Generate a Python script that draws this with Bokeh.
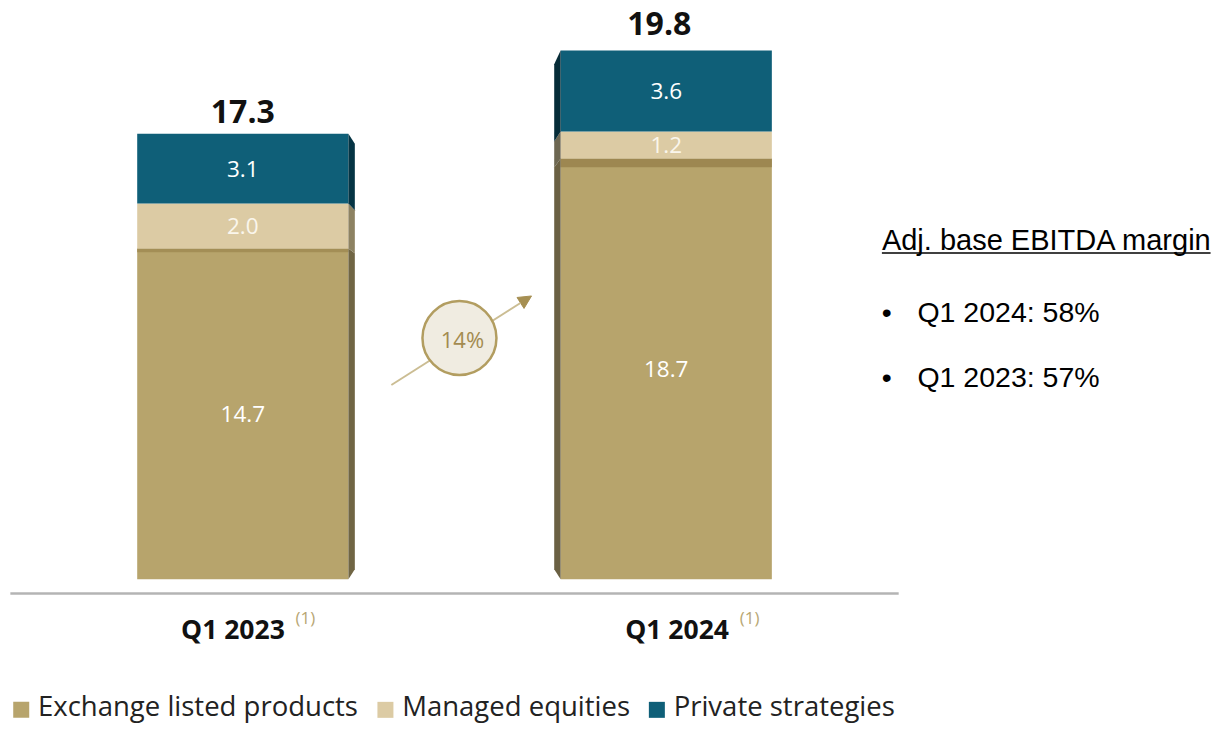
from bokeh.plotting import figure
from bokeh.models import Range1d, Arrow, NormalHead
from bokeh.core.properties import value
from bokeh.embed import file_html
from bokeh.resources import INLINE

# ---------------- data ----------------
categories = ["Q1 2023", "Q1 2024"]
exchange_listed = [14.7, 18.7]
managed_equities = [2.0, 1.2]
private_strategies = [3.1, 3.6]
totals = ["17.3", "19.8"]
series_names = ["Exchange listed products", "Managed equities", "Private strategies"]
footnote = "(1)"
growth_label = "14%"
margin_title = "Adj. base EBITDA margin"
margin_lines = ["Q1 2024: 58%", "Q1 2023: 57%"]

# ---------------- style / layout ----------------
W, H = 1215, 725
SX, SY = W / 1231.0, H / 741.0      # reference layout -> canvas
PXX = 429.0 * SX                     # pixels per category step
PXY = 23.0 * SY                      # pixels per value unit
x_start = -(245.5 * SX) / PXX
x_end = x_start + W / PXX
y_start = -(H - 591.5 * SY) / PXY
y_end = y_start + H / PXY

def X(px):  # layout x (reference pixels) -> data x
    return x_start + px * SX / PXX

def Y(py):  # layout y (reference pixels, from top) -> data y
    return y_start + (H - py * SY) / PXY

def DY(px):  # vertical pixel offset -> data units
    return px * SY / PXY

front_colors = ["#b7a46c", "#dccba4", "#0f5f78"]
side_colors = [["#706544", "#8d8262", "#053444"],
               ["#6a6043", "#6d6752", "#062c38"]]
label_colors = ["#ffffff", "#faf6ec", "#ffffff"]
band_color = ["#a38e56", "#9d8751"]
band_px = [4, 9]
sides = [1, -1]          # right side visible for bar 1, left side for bar 2
bar_w = 214 / 429.0
side_w = 6.5 / 429.0
vanish_y = (591.5 - 365) / 23.0
k = 0.045
total_dx = [0, -7]
total_dy = [23, 28]

p = figure(width=W, height=H, x_range=Range1d(x_start, x_end), y_range=Range1d(y_start, y_end),
           output_backend="svg", toolbar_location=None, min_border=0)
p.axis.visible = False
p.grid.visible = False
p.outline_line_color = None
p.background_fill_color = "white"
p.border_fill_color = "white"

series = [exchange_listed, managed_equities, private_strategies]

# arrow behind the circle
p.add_layout(Arrow(end=NormalHead(size=13, fill_color="#a68f52", line_color="#a68f52"),
                   x_start=X(396), y_start=Y(393), x_end=X(538), y_end=Y(302),
                   line_color="#cbbd93", line_width=2, level="underlay"))

# bars
for i in range(len(categories)):
    xc = float(i)
    left, right = xc - bar_w / 2, xc + bar_w / 2
    bottom = 0.0
    side_xs, side_ys, side_cols = [], [], []
    for s, vals in enumerate(series):
        top = bottom + vals[i]
        p.quad(left=[left], right=[right], bottom=[bottom], top=[top],
               fill_color=front_colors[s], line_color=None)
        xf = right if sides[i] > 0 else left
        xb = xf + sides[i] * side_w
        yb_bot = bottom + (vanish_y - bottom) * k
        yb_top = top + (vanish_y - top) * k
        side_xs.append([xf, xb, xb, xf])
        side_ys.append([bottom, yb_bot, yb_top, top])
        side_cols.append(side_colors[i][s])
        if s == 0:
            p.quad(left=[left], right=[right], bottom=[top - DY(band_px[i])], top=[top],
                   fill_color=band_color[i], line_color=None)
        p.text(x=[xc], y=[(bottom + top) / 2], text=[f"{vals[i]:.1f}"],
               text_font=value("Open Sans"), text_font_size="22.5px",
               text_color=label_colors[s], text_align="center", text_baseline="middle")
        bottom = top
    p.patches(xs=side_xs, ys=side_ys, fill_color=side_cols, line_color=None)
    p.text(x=[xc + total_dx[i] / 429.0], y=[bottom + DY(total_dy[i])], text=[totals[i]],
           text_font=value("Open Sans"), text_font_size="32px", text_font_style="bold",
           text_color="#111111", text_align="center", text_baseline="middle")

# baseline
p.line(x=[X(10), X(910)], y=[Y(606), Y(606)], line_color="#b4b4b4", line_width=2.5)

# category labels
cat_cx = [235.5, 685.5]
sup_cx = [309, 759]
for i, c in enumerate(categories):
    p.text(x=[X(cat_cx[i])], y=[Y(642)], text=[c], text_font=value("Open Sans"),
           text_font_size="26.5px", text_font_style="bold", text_color="#111111",
           text_align="center", text_baseline="middle")
    p.text(x=[X(sup_cx[i])], y=[Y(631)], text=[footnote], text_font=value("Open Sans"),
           text_font_size="17px", text_color="#b8a774",
           text_align="center", text_baseline="middle")

# growth circle
p.scatter(x=[X(465)], y=[Y(345)], size=74, marker="circle",
          fill_color="#f0ece1", line_color="#b29d60", line_width=2.5)
p.text(x=[X(468)], y=[Y(346)], text=[growth_label], text_font=value("Open Sans"),
       text_font_size="22px", text_color="#a38b50", text_align="center", text_baseline="middle")

# legend
sq_x = [21, 390, 665]
tx_x = [38, 407, 682]
for s, name in enumerate(series_names):
    p.scatter(x=[X(sq_x[s])], y=[Y(725)], size=16, marker="square",
              fill_color=front_colors[s], line_color=None)
    p.text(x=[X(tx_x[s])], y=[Y(721)], text=[name], text_font=value("Open Sans"),
           text_font_size="27.5px", text_color="#222222", text_align="left",
           text_baseline="middle")

# right-hand text
p.text(x=[X(893)], y=[Y(245)], text=[margin_title], text_font=value("Liberation Sans"),
       text_font_size="29px", text_color="#000000", text_align="left", text_baseline="middle")
p.segment(x0=[X(893)], y0=[Y(258)], x1=[X(1226)], y1=[Y(258)], line_color="#000000", line_width=1.5)
line_y = [318, 385]
for j, t in enumerate(margin_lines):
    p.text(x=[X(898)], y=[Y(line_y[j])], text=["\u2022"], text_font=value("Liberation Sans"),
           text_font_size="28.5px", text_color="#000000", text_align="center", text_baseline="middle")
    p.text(x=[X(929)], y=[Y(line_y[j])], text=[t], text_font=value("Liberation Sans"),
           text_font_size="28.5px", text_color="#000000", text_align="left", text_baseline="middle")

open("out.html", "w").write(file_html(p, INLINE))
